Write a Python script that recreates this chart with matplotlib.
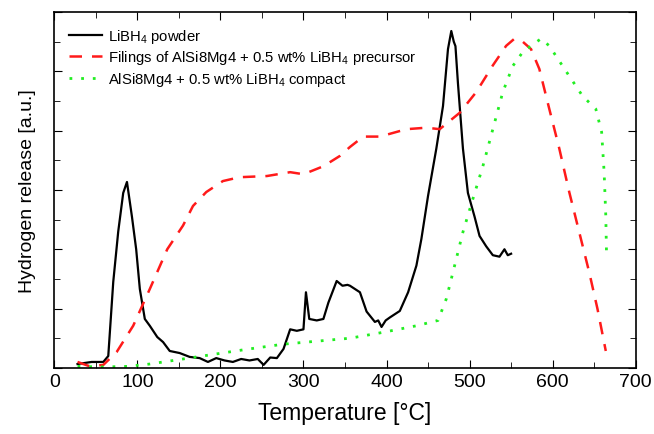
import numpy as np
import matplotlib
matplotlib.use('Agg')
import matplotlib.pyplot as plt
from matplotlib.ticker import MultipleLocator

plt.rcParams['font.family'] = ['Liberation Sans', 'DejaVu Sans']
plt.rcParams['mathtext.default'] = 'regular'

# LiBH4 powder
t_powder = [28, 45, 59, 65, 71, 77, 83, 87.5, 93.5, 98.6, 103, 109, 115, 124, 131, 139, 151, 163,
            175, 185, 195, 205, 215, 225, 235, 245, 252, 260, 268, 276, 284, 292, 300, 303, 307,
            316, 324, 330, 340, 347, 353, 356, 368, 376, 386, 390, 394, 399, 404, 416, 426, 436,
            442, 450, 460, 468, 474, 478, 481, 483, 486, 492, 498, 506, 512, 520, 528, 536, 542,
            546, 550]
y_powder = [0.13, 0.2, 0.2, 0.4, 2.9, 4.6, 5.9, 6.27, 5.1, 4.0, 2.66, 1.65, 1.42, 1.04, 0.87, 0.57,
            0.5, 0.37, 0.33, 0.2, 0.33, 0.25, 0.2, 0.3, 0.25, 0.3, 0.1, 0.35, 0.33, 0.64, 1.3, 1.25,
            1.3, 2.55, 1.65, 1.6, 1.65, 2.2, 2.93, 2.77, 2.8, 2.77, 2.55, 1.9, 1.55, 1.6, 1.38, 1.6,
            1.7, 1.92, 2.55, 3.45, 4.35, 5.8, 7.4, 8.83, 10.75, 11.36, 11.0, 10.85, 9.6, 7.4, 5.9,
            5.1, 4.45, 4.1, 3.8, 3.75, 4.0, 3.8, 3.85]

# Filings of AlSi8Mg4 + 0.5 wt% LiBH4 precursor
t_filings = [28, 43, 59, 75, 95, 115, 136, 155, 167, 183, 203, 223, 256, 284, 300, 324, 344, 356,
             372, 392, 424, 448, 464, 488, 508, 528, 544, 554, 564, 574, 584, 596, 608, 620, 632,
             644, 654, 664]
y_filings = [0.2, 0.05, 0.1, 0.53, 1.42, 2.66, 4.0, 4.8, 5.46, 5.93, 6.3, 6.43, 6.47, 6.6, 6.53,
             6.8, 7.15, 7.45, 7.8, 7.8, 8.05, 8.1, 8.05, 8.6, 9.3, 10.2, 10.86, 11.1, 11.0, 10.75,
             10.08, 8.73, 7.4, 5.93, 4.58, 3.23, 1.99, 0.57]

# AlSi8Mg4 + 0.5 wt% LiBH4 compact
t_compact = [28, 59, 88, 115, 155, 195, 235, 276, 316, 356, 396, 436, 462, 472, 482, 492, 504, 516,
             528, 540, 552, 564, 576, 586, 596, 612, 636, 652, 659, 662, 664, 665]
y_compact = [0.05, 0.03, 0.05, 0.13, 0.3, 0.47, 0.64, 0.8, 0.9, 1.0, 1.2, 1.42, 1.6, 2.33, 3.45,
             4.58, 5.7, 6.8, 8.05, 9.3, 10.18, 10.65, 10.9, 11.1, 10.86, 10.18, 9.17, 8.73, 7.95,
             6.6, 5.13, 3.67]

fig = plt.figure(figsize=(6.54, 4.35), dpi=100)
ax = fig.add_axes([0.083, 0.152, 0.889, 0.818])

ax.plot(t_powder, y_powder, color='black', lw=1.6, label='LiBH$_4$ powder')
ax.plot(t_filings, y_filings, color='#ff1a1a', lw=1.8, ls=(0, (5, 4)),
        label='Filings of AlSi8Mg4 + 0.5 wt% LiBH$_4$ precursor')
ax.plot(t_compact, y_compact, color='#22ee22', lw=2, ls=(0, (1, 3.2)),
        label='AlSi8Mg4 + 0.5 wt% LiBH$_4$ compact')

ax.set_xlim(0, 700)
ax.set_ylim(0, 12)
ax.xaxis.set_major_locator(MultipleLocator(100))
ax.xaxis.set_minor_locator(MultipleLocator(50))
ax.yaxis.set_major_locator(MultipleLocator(2))
ax.yaxis.set_minor_locator(MultipleLocator(1))
ax.set_yticklabels([])
ax.tick_params(which='both', direction='in', top=True, right=True, labelsize=14)
ax.tick_params(which='major', length=6)
ax.tick_params(which='minor', length=4)
for s in ax.spines.values():
    s.set_linewidth(1.2)

ax.set_xlabel('Temperature [°C]', fontsize=16.5, labelpad=8)
ax.set_ylabel('Hydrogen release [a.u.]', fontsize=14, labelpad=10)

ax.legend(loc='upper left', frameon=False, fontsize=10.7, handlelength=2.2,
          handletextpad=0.4, labelspacing=0.25, borderaxespad=0.3,
          bbox_to_anchor=(0.008, 0.988))

fig.savefig('out.png', dpi=100)
